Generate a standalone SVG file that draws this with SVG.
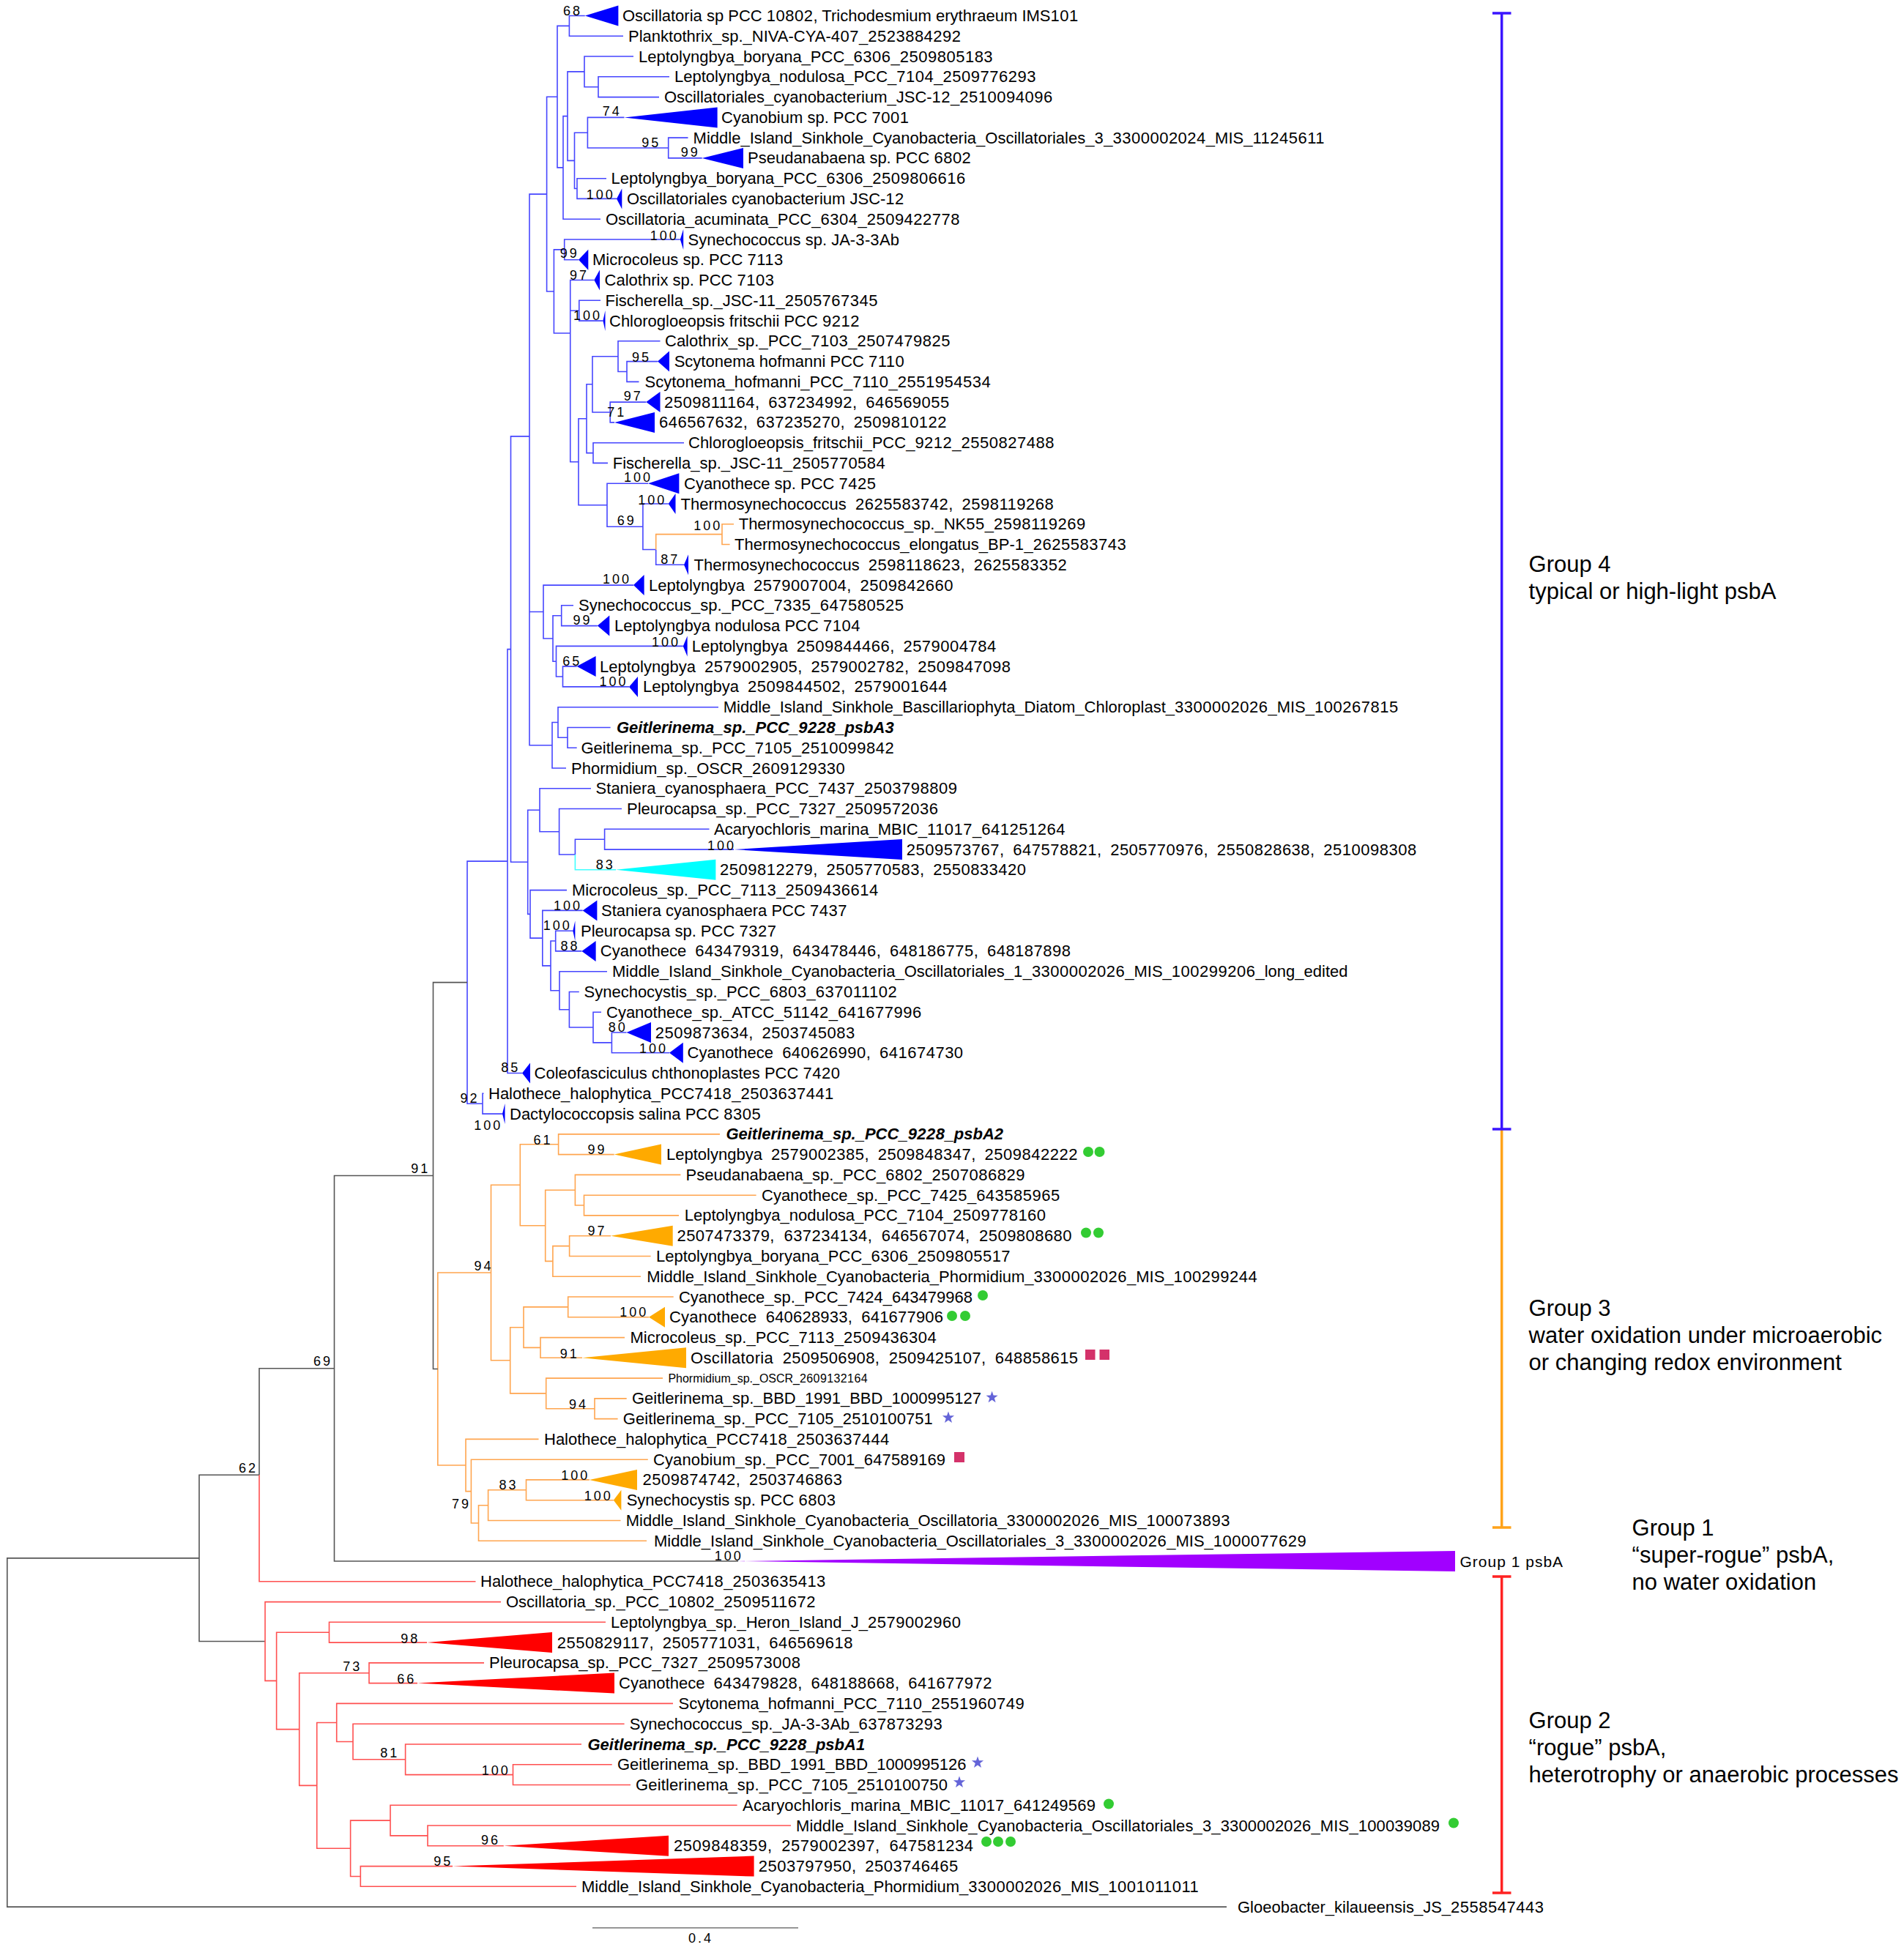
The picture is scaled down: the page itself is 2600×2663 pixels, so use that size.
<svg xmlns="http://www.w3.org/2000/svg" width="2600" height="2663" viewBox="0 0 2600 2663">
<style>
text{font-family:"Liberation Sans",Arial,Helvetica,sans-serif;fill:#000}
.t{font-size:22px}
.w{word-spacing:6px}
.bi{font-size:22px;font-weight:bold;font-style:italic}
.sm{font-size:16px}
.d{letter-spacing:0.5px}
.sm .d{letter-spacing:0.4px}
.s{font-size:18px;letter-spacing:3px;text-anchor:end}
.g{font-size:31px}
.g1{font-size:21px;letter-spacing:1px}
path{fill:none;stroke-width:1.6}
.b{stroke:#4646ff}.o{stroke:#ffa54f}.r{stroke:#ff5050}.k{stroke:#555}.c{stroke:#40ffff}
.tb{fill:#0000ff}.to{fill:#ffaa00}.tr{fill:#ff0000}.tc{fill:#00ffff}.tp{fill:#a100ff}
.dot{fill:#33cc33}.sq{fill:#d4326a}.st{fill:#6464d8}
.bar{stroke-width:3.5}
</style>
<defs>
<polygon id="star" points="0,-8.5 2,-2.75 8.08,-2.63 3.23,1.05 5,6.88 0,3.4 -5,6.88 -3.23,1.05 -8.08,-2.63 -2,-2.75"/>
</defs>
<rect width="2600" height="2663" fill="#fff"/>
<g id="connectors">
<path class="b" d="M777.4,35.4V21.5H798.8M777.4,35.4V49.3H851M817,118.7V104.8H914M817,118.7V132.6H900M798,97.9V77H865M798,97.9V118.7H817M912.7,202V188.1H939.5M912.7,202V215.9H958.7M802.4,181.2V160.4H852.4M802.4,181.2V202H912.7M788,257.5V243.7H828M788,257.5V271.4H842M784.5,219.4V181.2H802.4M784.5,219.4V257.5H788M775,158.6V97.9H798M775,158.6V219.4H784.5M769,228.9V158.6H775M769,228.9V299.2H820M761,132.2V35.4H777.4M761,132.2V228.9H769"/>
<path class="b" d="M770.7,340.9V327H928.8M770.7,340.9V354.7H790M790.8,424.2V410.3H820M790.8,424.2V438.1H823.4M856,507.5V493.6H898M856,507.5V521.4H872.5M844,486.7V465.8H901.5M844,486.7V507.5H856M833.2,563V549.1H882.3M833.2,563V576.9H839M809,524.8V486.7H844M809,524.8V563H833.2M810,618.6V604.7H934M810,618.6V632.4H830M801,571.7V524.8H809M801,571.7V618.6H810M895.7,750.5V771.3H934M877.9,719.2V688H912.7M877.9,719.2V750.5H895.7M829,689.7V660.2H885M829,689.7V719.2H877.9M790,630.7V571.7H801M790,630.7V689.7H829M778.75,527.5V424.2H790.8M778.75,527.5V630.7H790M778.75,455V382.5H811.3M778.75,455V527.5M756.4,398V340.9H770.7M756.4,398V455H778.75M746.6,265.1V132.2H761M746.6,265.1V398H756.4"/>
<path class="b" d="M766.7,840.7V826.8H783M766.7,840.7V854.6H815.8M768.5,924V910.1H787.7M768.5,924V937.9H859M759.5,903.2V882.4H932.8M759.5,903.2V924H768.5M755,872V840.7H766.7M755,872V903.2H759.5M742,835.5V799.1H865M742,835.5V872H755M775,1007.3V993.5H833.6M775,1007.3V1021.2H787.7M762,986.5V965.7H981M762,986.5V1007.3H775M754,1017.8V986.5H762M754,1017.8V1049H773M723,926.6V835.5H742M723,926.6V1017.8H754M723,595.9V265.1H746.6M723,595.9V926.6"/>
<path class="b" d="M825.6,1146.2V1132.3H968.5M825.6,1146.2V1160.1H1002M785.4,1167V1146.2H825.6M763.6,1135.8V1104.5H849M763.6,1135.8V1167H785.4M737,1106.3V1076.8H807M737,1106.3V1135.8H763.6M758.7,1285V1271.2H782.3M758.7,1285V1298.9H794.4M835.4,1423.9V1410H855.5M835.4,1423.9V1437.8H914M810,1403V1382.2H821M810,1403V1423.9H835.4M777.4,1378.8V1354.5H790.8M777.4,1378.8V1403H810M764,1352.7V1326.7H829M764,1352.7V1378.8H777.4M752,1318.9V1285H758.7M752,1318.9V1352.7H764M740.8,1281.1V1243.4H795.7M740.8,1281.1V1318.9H752M724,1248.4V1215.6H774M724,1248.4V1281.1H740.8M720.7,1177.3V1106.3H737M720.7,1177.3V1248.4H724M697.5,886.6V595.9H723M697.5,886.6V1177.3H720.7M693,1176.1V886.6H697.5M693,1176.1V1465.5H713M659,1507.2V1493.3H660.5M659,1507.2V1521.1H686M638,1341.6V1176.1H693M638,1341.6V1507.2H659"/>
<path class="c" d="M785.4,1167V1187.8H841"/>
<path class="o" d="M986,729.6V715.8H1002M986,729.6V743.5H996.6M895.7,750.5V729.6H986"/>
<path class="o" d="M762.6,1562.7V1548.9H983M762.6,1562.7V1576.6H838.7M797.5,1646V1632.2H1032.6M797.5,1646V1659.9H927M785.4,1625.2V1604.4H929.4M785.4,1625.2V1646H797.5M777.6,1701.6V1687.7H834M777.6,1701.6V1715.5H888.6M754.9,1722.4V1701.6H777.6M754.9,1722.4V1743.2H875M744.7,1673.8V1625.2H785.4M744.7,1673.8V1722.4H754.9M710.3,1618.3V1562.7H762.6M710.3,1618.3V1673.8H744.7M775.7,1784.9V1771H919.7M775.7,1784.9V1798.8H886M738,1840.4V1826.6H853M738,1840.4V1854.3H795M715,1812.7V1784.9H775.7M715,1812.7V1840.4H738M812,1923.7V1909.9H855.7M812,1923.7V1937.6H843.6M745.7,1902.9V1882.1H905M745.7,1902.9V1923.7H812M696.7,1857.8V1812.7H715M696.7,1857.8V1902.9H745.7M670.5,1738V1618.3H710.3M670.5,1738V1857.8H696.7M718.5,2034.8V2020.9H804.8M718.5,2034.8V2048.7H837.8M666.6,2055.7V2034.8H718.5M666.6,2055.7V2076.5H847.5M653.5,2080V2055.7H666.6M653.5,2080V2104.3H883M643.4,2036.6V1993.2H884.8M643.4,2036.6V2080H653.5M636,2001V1965.4H735.5M636,2001V2036.6H643.4M597.8,1869.5V1738H670.5M597.8,1869.5V2001H636"/>
<path class="k" d="M591.5,1605.5V1341.6H638M591.5,1605.5V1869.5H597.8M456.5,1868.8V1605.5H591.5M456.5,1868.8V2132H1008M354,2014.3V1868.8H456.5M272,2127.9V2014.3H354M272,2127.9V2241.5H362M9.8,2366V2127.9H272M9.8,2366V2604.1H1675"/>
<path class="r" d="M354,2014.3V2159.8H649.5M449.5,2229.2V2215.3H827M449.5,2229.2V2243.1H583M504,2284.8V2270.9H661M504,2284.8V2298.6H570M700.5,2423.6V2409.7H835.7M700.5,2423.6V2437.5H861M553.6,2402.8V2382H794M553.6,2402.8V2423.6H700.5M482,2378.5V2354.2H852.6M482,2378.5V2402.8H553.6M459.7,2352.5V2326.4H919M459.7,2352.5V2378.5H482M584,2506.9V2493H1080M584,2506.9V2520.8H687.8M533,2486.1V2465.3H1006.6M533,2486.1V2506.9H584M492.3,2562.5V2548.6H618M492.3,2562.5V2576.3H787M478.6,2524.3V2486.1H533M478.6,2524.3V2562.5H492.3M432.7,2438.4V2352.5H459.7M432.7,2438.4V2524.3H478.6M408.7,2361.6V2284.8H504M408.7,2361.6V2438.4H432.7M377.6,2295.4V2229.2H449.5M377.6,2295.4V2361.6H408.7M362,2241.5V2187.6H684M362,2241.5V2295.4H377.6"/>
</g>
<g id="leaves">
<g id="leaf-1"><polygon class="tb" points="798.8,21.5 844.4,7.5 844.4,35.5"/><text class="t" x="850" y="29">Oscillatoria sp PCC <tspan class="d">10802</tspan>, Trichodesmium erythraeum IMS<tspan class="d">101</tspan></text></g>
<g id="leaf-2"><text class="t" x="858" y="56.8">Planktothrix_sp._NIVA-CYA-<tspan class="d">407</tspan>_<tspan class="d">2523884292</tspan></text></g>
<g id="leaf-3"><text class="t" x="872" y="84.5">Leptolyngbya_boryana_PCC_<tspan class="d">6306</tspan>_<tspan class="d">2509805183</tspan></text></g>
<g id="leaf-4"><text class="t" x="921" y="112.3">Leptolyngbya_nodulosa_PCC_<tspan class="d">7104</tspan>_<tspan class="d">2509776293</tspan></text></g>
<g id="leaf-5"><text class="t" x="907" y="140.1">Oscillatoriales_cyanobacterium_JSC-<tspan class="d">12</tspan>_<tspan class="d">2510094096</tspan></text></g>
<g id="leaf-6"><polygon class="tb" points="852.4,160.4 979.6,146.4 979.6,174.4"/><text class="t" x="985" y="167.9">Cyanobium sp. PCC <tspan class="d">7001</tspan></text></g>
<g id="leaf-7"><text class="t" x="946.6" y="195.6">Middle_Island_Sinkhole_Cyanobacteria_Oscillatoriales_<tspan class="d">3</tspan>_<tspan class="d">3300002024</tspan>_MIS_<tspan class="d">11245611</tspan></text></g>
<g id="leaf-8"><polygon class="tb" points="958.7,215.9 1015,201.9 1015,229.9"/><text class="t" x="1021" y="223.4">Pseudanabaena sp. PCC <tspan class="d">6802</tspan></text></g>
<g id="leaf-9"><text class="t" x="834.6" y="251.2">Leptolyngbya_boryana_PCC_<tspan class="d">6306</tspan>_<tspan class="d">2509806616</tspan></text></g>
<g id="leaf-10"><polygon class="tb" points="842,271.4 849.3,257.4 849.3,285.4"/><text class="t" x="856" y="278.9">Oscillatoriales cyanobacterium JSC-<tspan class="d">12</tspan></text></g>
<g id="leaf-11"><text class="t" x="827" y="306.7">Oscillatoria_acuminata_PCC_<tspan class="d">6304</tspan>_<tspan class="d">2509422778</tspan></text></g>
<g id="leaf-12"><polygon class="tb" points="928.8,327 933.2,313 933.2,341"/><text class="t" x="939.5" y="334.5">Synechococcus sp. JA-<tspan class="d">3</tspan>-<tspan class="d">3</tspan>Ab</text></g>
<g id="leaf-13"><polygon class="tb" points="790,354.7 803.3,340.7 803.3,368.7"/><text class="t" x="809" y="362.2">Microcoleus sp. PCC <tspan class="d">7113</tspan></text></g>
<g id="leaf-14"><polygon class="tb" points="811.3,382.5 819,368.5 819,396.5"/><text class="t" x="825.6" y="390">Calothrix sp. PCC <tspan class="d">7103</tspan></text></g>
<g id="leaf-15"><text class="t" x="826.5" y="417.8">Fischerella_sp._JSC-<tspan class="d">11</tspan>_<tspan class="d">2505767345</tspan></text></g>
<g id="leaf-16"><polygon class="tb" points="823.4,438.1 826.5,424.1 826.5,452.1"/><text class="t" x="832" y="445.6">Chlorogloeopsis fritschii PCC <tspan class="d">9212</tspan></text></g>
<g id="leaf-17"><text class="t" x="908" y="473.3">Calothrix_sp._PCC_<tspan class="d">7103</tspan>_<tspan class="d">2507479825</tspan></text></g>
<g id="leaf-18"><polygon class="tb" points="898,493.6 914,479.6 914,507.6"/><text class="t" x="920.7" y="501.1">Scytonema hofmanni PCC <tspan class="d">7110</tspan></text></g>
<g id="leaf-19"><text class="t" x="880.5" y="528.9">Scytonema_hofmanni_PCC_<tspan class="d">7110</tspan>_<tspan class="d">2551954534</tspan></text></g>
<g id="leaf-20"><polygon class="tb" points="882.3,549.1 901.5,535.1 901.5,563.1"/><text class="t w" x="907" y="556.6"><tspan class="d">2509811164</tspan>, <tspan class="d">637234992</tspan>, <tspan class="d">646569055</tspan></text></g>
<g id="leaf-21"><polygon class="tb" points="839,576.9 894,562.9 894,590.9"/><text class="t w" x="900" y="584.4"><tspan class="d">646567632</tspan>, <tspan class="d">637235270</tspan>, <tspan class="d">2509810122</tspan></text></g>
<g id="leaf-22"><text class="t" x="940" y="612.2">Chlorogloeopsis_fritschii_PCC_<tspan class="d">9212</tspan>_<tspan class="d">2550827488</tspan></text></g>
<g id="leaf-23"><text class="t" x="836.8" y="639.9">Fischerella_sp._JSC-<tspan class="d">11</tspan>_<tspan class="d">2505770584</tspan></text></g>
<g id="leaf-24"><polygon class="tb" points="885,660.2 927.4,646.2 927.4,674.2"/><text class="t" x="934" y="667.7">Cyanothece sp. PCC <tspan class="d">7425</tspan></text></g>
<g id="leaf-25"><polygon class="tb" points="912.7,688 922.5,674 922.5,702"/><text class="t w" x="929.6" y="695.5">Thermosynechococcus <tspan class="d">2625583742</tspan>, <tspan class="d">2598119268</tspan></text></g>
<g id="leaf-26"><text class="t" x="1008.7" y="723.3">Thermosynechococcus_sp._NK<tspan class="d">55</tspan>_<tspan class="d">2598119269</tspan></text></g>
<g id="leaf-27"><text class="t" x="1003" y="751">Thermosynechococcus_elongatus_BP-<tspan class="d">1</tspan>_<tspan class="d">2625583743</tspan></text></g>
<g id="leaf-28"><polygon class="tb" points="934,771.3 940,757.3 940,785.3"/><text class="t w" x="947.5" y="778.8">Thermosynechococcus <tspan class="d">2598118623</tspan>, <tspan class="d">2625583352</tspan></text></g>
<g id="leaf-29"><polygon class="tb" points="865,799.1 879.6,785.1 879.6,813.1"/><text class="t w" x="886" y="806.6">Leptolyngbya <tspan class="d">2579007004</tspan>, <tspan class="d">2509842660</tspan></text></g>
<g id="leaf-30"><text class="t" x="790" y="834.3">Synechococcus_sp._PCC_<tspan class="d">7335</tspan>_<tspan class="d">647580525</tspan></text></g>
<g id="leaf-31"><polygon class="tb" points="815.8,854.6 832.3,840.6 832.3,868.6"/><text class="t" x="839" y="862.1">Leptolyngbya nodulosa PCC <tspan class="d">7104</tspan></text></g>
<g id="leaf-32"><polygon class="tb" points="932.8,882.4 938.6,868.4 938.6,896.4"/><text class="t w" x="944.8" y="889.9">Leptolyngbya <tspan class="d">2509844466</tspan>, <tspan class="d">2579004784</tspan></text></g>
<g id="leaf-33"><polygon class="tb" points="787.7,910.1 813.6,896.1 813.6,924.1"/><text class="t w" x="819" y="917.6">Leptolyngbya <tspan class="d">2579002905</tspan>, <tspan class="d">2579002782</tspan>, <tspan class="d">2509847098</tspan></text></g>
<g id="leaf-34"><polygon class="tb" points="859,937.9 871,923.9 871,951.9"/><text class="t w" x="878" y="945.4">Leptolyngbya <tspan class="d">2509844502</tspan>, <tspan class="d">2579001644</tspan></text></g>
<g id="leaf-35"><text class="t" x="987.7" y="973.2">Middle_Island_Sinkhole_Bascillariophyta_Diatom_Chloroplast_<tspan class="d">3300002026</tspan>_MIS_<tspan class="d">100267815</tspan></text></g>
<g id="leaf-36"><text class="bi" x="842" y="1001">Geitlerinema_sp._PCC_<tspan class="d">9228</tspan>_psbA<tspan class="d">3</tspan></text></g>
<g id="leaf-37"><text class="t" x="793.5" y="1028.7">Geitlerinema_sp._PCC_<tspan class="d">7105</tspan>_<tspan class="d">2510099842</tspan></text></g>
<g id="leaf-38"><text class="t" x="780" y="1056.5">Phormidium_sp._OSCR_<tspan class="d">2609129330</tspan></text></g>
<g id="leaf-39"><text class="t" x="813.6" y="1084.3">Staniera_cyanosphaera_PCC_<tspan class="d">7437</tspan>_<tspan class="d">2503798809</tspan></text></g>
<g id="leaf-40"><text class="t" x="856" y="1112">Pleurocapsa_sp._PCC_<tspan class="d">7327</tspan>_<tspan class="d">2509572036</tspan></text></g>
<g id="leaf-41"><text class="t" x="975" y="1139.8">Acaryochloris_marina_MBIC_<tspan class="d">11017</tspan>_<tspan class="d">641251264</tspan></text></g>
<g id="leaf-42"><polygon class="tb" points="1002,1160.1 1232,1146.1 1232,1174.1"/><text class="t w" x="1237.7" y="1167.6"><tspan class="d">2509573767</tspan>, <tspan class="d">647578821</tspan>, <tspan class="d">2505770976</tspan>, <tspan class="d">2550828638</tspan>, <tspan class="d">2510098308</tspan></text></g>
<g id="leaf-43"><polygon class="tc" points="841,1187.8 977.4,1173.8 977.4,1201.8"/><text class="t w" x="983" y="1195.3"><tspan class="d">2509812279</tspan>, <tspan class="d">2505770583</tspan>, <tspan class="d">2550833420</tspan></text></g>
<g id="leaf-44"><text class="t" x="781" y="1223.1">Microcoleus_sp._PCC_<tspan class="d">7113</tspan>_<tspan class="d">2509436614</tspan></text></g>
<g id="leaf-45"><polygon class="tb" points="795.7,1243.4 815.4,1229.4 815.4,1257.4"/><text class="t" x="821" y="1250.9">Staniera cyanosphaera PCC <tspan class="d">7437</tspan></text></g>
<g id="leaf-46"><polygon class="tb" points="782.3,1271.2 785.4,1257.2 785.4,1285.2"/><text class="t" x="793" y="1278.7">Pleurocapsa sp. PCC <tspan class="d">7327</tspan></text></g>
<g id="leaf-47"><polygon class="tb" points="794.4,1298.9 813.6,1284.9 813.6,1312.9"/><text class="t w" x="819.8" y="1306.4">Cyanothece <tspan class="d">643479319</tspan>, <tspan class="d">643478446</tspan>, <tspan class="d">648186775</tspan>, <tspan class="d">648187898</tspan></text></g>
<g id="leaf-48"><text class="t" x="836" y="1334.2">Middle_Island_Sinkhole_Cyanobacteria_Oscillatoriales_<tspan class="d">1</tspan>_<tspan class="d">3300002026</tspan>_MIS_<tspan class="d">100299206</tspan>_long_edited</text></g>
<g id="leaf-49"><text class="t" x="797.5" y="1362">Synechocystis_sp._PCC_<tspan class="d">6803</tspan>_<tspan class="d">637011102</tspan></text></g>
<g id="leaf-50"><text class="t" x="828" y="1389.7">Cyanothece_sp._ATCC_<tspan class="d">51142</tspan>_<tspan class="d">641677996</tspan></text></g>
<g id="leaf-51"><polygon class="tb" points="855.5,1410 889,1396 889,1424"/><text class="t w" x="894.8" y="1417.5"><tspan class="d">2509873634</tspan>, <tspan class="d">2503745083</tspan></text></g>
<g id="leaf-52"><polygon class="tb" points="914,1437.8 932.8,1423.8 932.8,1451.8"/><text class="t w" x="938.6" y="1445.3">Cyanothece <tspan class="d">640626990</tspan>, <tspan class="d">641674730</tspan></text></g>
<g id="leaf-53"><polygon class="tb" points="713,1465.5 724,1451.5 724,1479.5"/><text class="t" x="729.6" y="1473">Coleofasciculus chthonoplastes PCC <tspan class="d">7420</tspan></text></g>
<g id="leaf-54"><text class="t" x="667" y="1500.8">Halothece_halophytica_PCC<tspan class="d">7418</tspan>_<tspan class="d">2503637441</tspan></text></g>
<g id="leaf-55"><polygon class="tb" points="686,1521.1 689.5,1507.1 689.5,1535.1"/><text class="t" x="696" y="1528.6">Dactylococcopsis salina PCC <tspan class="d">8305</tspan></text></g>
<g id="leaf-56"><text class="bi" x="991.4" y="1556.4">Geitlerinema_sp._PCC_<tspan class="d">9228</tspan>_psbA<tspan class="d">2</tspan></text></g>
<g id="leaf-57"><polygon class="to" points="838.7,1576.6 903,1562.6 903,1590.6"/><text class="t w" x="910" y="1584.1" textLength="562">Leptolyngbya <tspan class="d">2579002385</tspan>, <tspan class="d">2509848347</tspan>, <tspan class="d">2509842222</tspan></text><circle class="dot" cx="1486" cy="1573" r="7"/><circle class="dot" cx="1501.5" cy="1573" r="7"/></g>
<g id="leaf-58"><text class="t" x="936.6" y="1611.9">Pseudanabaena_sp._PCC_<tspan class="d">6802</tspan>_<tspan class="d">2507086829</tspan></text></g>
<g id="leaf-59"><text class="t" x="1040" y="1639.7">Cyanothece_sp._PCC_<tspan class="d">7425</tspan>_<tspan class="d">643585965</tspan></text></g>
<g id="leaf-60"><text class="t" x="934.7" y="1667.4">Leptolyngbya_nodulosa_PCC_<tspan class="d">7104</tspan>_<tspan class="d">2509778160</tspan></text></g>
<g id="leaf-61"><polygon class="to" points="834,1687.7 918.7,1673.7 918.7,1701.7"/><text class="t w" x="924.5" y="1695.2" textLength="539">2507473379, 637234134, 646567074, 2509808680</text><circle class="dot" cx="1483" cy="1683.5" r="7"/><circle class="dot" cx="1500" cy="1683.5" r="7"/></g>
<g id="leaf-62"><text class="t" x="896" y="1723">Leptolyngbya_boryana_PCC_<tspan class="d">6306</tspan>_<tspan class="d">2509805517</tspan></text></g>
<g id="leaf-63"><text class="t" x="883.3" y="1750.7">Middle_Island_Sinkhole_Cyanobacteria_Phormidium_<tspan class="d">3300002026</tspan>_MIS_<tspan class="d">100299244</tspan></text></g>
<g id="leaf-64"><text class="t" x="927" y="1778.5" textLength="401">Cyanothece_sp._PCC_7424_643479968</text><circle class="dot" cx="1342" cy="1769" r="7"/></g>
<g id="leaf-65"><polygon class="to" points="886,1798.8 908,1784.8 908,1812.8"/><text class="t w" x="914" y="1806.3" textLength="374">Cyanothece 640628933, 641677906</text><circle class="dot" cx="1300" cy="1797" r="7"/><circle class="dot" cx="1318" cy="1797" r="7"/></g>
<g id="leaf-66"><text class="t" x="860.5" y="1834.1">Microcoleus_sp._PCC_<tspan class="d">7113</tspan>_<tspan class="d">2509436304</tspan></text></g>
<g id="leaf-67"><polygon class="to" points="795,1854.3 937,1840.3 937,1868.3"/><text class="t w" x="943" y="1861.8" textLength="529">Oscillatoria 2509506908, 2509425107, 648858615</text><rect class="sq" x="1482" y="1843" width="13.5" height="14"/><rect class="sq" x="1501.5" y="1843" width="13.5" height="14"/></g>
<g id="leaf-68"><text class="sm" x="912.4" y="1887.8">Phormidium_sp._OSCR_<tspan class="d">2609132164</tspan></text></g>
<g id="leaf-69"><text class="t" x="863" y="1917.4" textLength="477">Geitlerinema_sp._BBD_1991_BBD_1000995127</text><use href="#star" class="st" x="1354.6" y="1908.3"/></g>
<g id="leaf-70"><text class="t" x="850.8" y="1945.1" textLength="423">Geitlerinema_sp._PCC_7105_2510100751</text><use href="#star" class="st" x="1295" y="1936"/></g>
<g id="leaf-71"><text class="t" x="743" y="1972.9">Halothece_halophytica_PCC<tspan class="d">7418</tspan>_<tspan class="d">2503637444</tspan></text></g>
<g id="leaf-72"><text class="t" x="892" y="2000.7" textLength="399">Cyanobium_sp._PCC_7001_647589169</text><rect class="sq" x="1303" y="1983" width="14" height="14"/></g>
<g id="leaf-73"><polygon class="to" points="804.8,2020.9 870,2006.9 870,2034.9"/><text class="t w" x="877.5" y="2028.4"><tspan class="d">2509874742</tspan>, <tspan class="d">2503746863</tspan></text></g>
<g id="leaf-74"><polygon class="to" points="837.8,2048.7 848.4,2034.7 848.4,2062.7"/><text class="t" x="855.7" y="2056.2">Synechocystis sp. PCC <tspan class="d">6803</tspan></text></g>
<g id="leaf-75"><text class="t" x="854.7" y="2084">Middle_Island_Sinkhole_Cyanobacteria_Oscillatoria_<tspan class="d">3300002026</tspan>_MIS_<tspan class="d">100073893</tspan></text></g>
<g id="leaf-76"><text class="t" x="893" y="2111.8">Middle_Island_Sinkhole_Cyanobacteria_Oscillatoriales_<tspan class="d">3</tspan>_<tspan class="d">3300002026</tspan>_MIS_<tspan class="d">1000077629</tspan></text></g>
<g id="leaf-77"><polygon class="tp" points="1008,2132 1987,2118 1987,2146"/><text class="g1" x="1993.5" y="2139.5">Group 1 psbA</text></g>
<g id="leaf-78"><text class="t" x="656" y="2167.3">Halothece_halophytica_PCC<tspan class="d">7418</tspan>_<tspan class="d">2503635413</tspan></text></g>
<g id="leaf-79"><text class="t" x="691" y="2195.1">Oscillatoria_sp._PCC_<tspan class="d">10802</tspan>_<tspan class="d">2509511672</tspan></text></g>
<g id="leaf-80"><text class="t" x="834" y="2222.8">Leptolyngbya_sp._Heron_Island_J_<tspan class="d">2579002960</tspan></text></g>
<g id="leaf-81"><polygon class="tr" points="583,2243.1 754,2229.1 754,2257.1"/><text class="t w" x="760.7" y="2250.6"><tspan class="d">2550829117</tspan>, <tspan class="d">2505771031</tspan>, <tspan class="d">646569618</tspan></text></g>
<g id="leaf-82"><text class="t" x="668" y="2278.4">Pleurocapsa_sp._PCC_<tspan class="d">7327</tspan>_<tspan class="d">2509573008</tspan></text></g>
<g id="leaf-83"><polygon class="tr" points="570,2298.6 839,2284.6 839,2312.6"/><text class="t w" x="845" y="2306.1">Cyanothece <tspan class="d">643479828</tspan>, <tspan class="d">648188668</tspan>, <tspan class="d">641677972</tspan></text></g>
<g id="leaf-84"><text class="t" x="926.5" y="2333.9">Scytonema_hofmanni_PCC_<tspan class="d">7110</tspan>_<tspan class="d">2551960749</tspan></text></g>
<g id="leaf-85"><text class="t" x="859.7" y="2361.7">Synechococcus_sp._JA-<tspan class="d">3</tspan>-<tspan class="d">3</tspan>Ab_<tspan class="d">637873293</tspan></text></g>
<g id="leaf-86"><text class="bi" x="802.5" y="2389.5">Geitlerinema_sp._PCC_<tspan class="d">9228</tspan>_psbA<tspan class="d">1</tspan></text></g>
<g id="leaf-87"><text class="t" x="843" y="2417.2" textLength="476.5">Geitlerinema_sp._BBD_1991_BBD_1000995126</text><use href="#star" class="st" x="1335" y="2407"/></g>
<g id="leaf-88"><text class="t" x="868" y="2445" textLength="426">Geitlerinema_sp._PCC_7105_2510100750</text><use href="#star" class="st" x="1310" y="2434"/></g>
<g id="leaf-89"><text class="t" x="1014" y="2472.8" textLength="482">Acaryochloris_marina_MBIC_11017_641249569</text><circle class="dot" cx="1514" cy="2463.5" r="7"/></g>
<g id="leaf-90"><text class="t" x="1087" y="2500.5" textLength="879">Middle_Island_Sinkhole_Cyanobacteria_Oscillatoriales_3_3300002026_MIS_100039089</text><circle class="dot" cx="1985" cy="2489.5" r="7"/></g>
<g id="leaf-91"><polygon class="tr" points="687.8,2520.8 913,2506.8 913,2534.8"/><text class="t w" x="920" y="2528.3" textLength="409">2509848359, 2579002397, 647581234</text><circle class="dot" cx="1347" cy="2515" r="7"/><circle class="dot" cx="1363" cy="2515" r="7"/><circle class="dot" cx="1380" cy="2515" r="7"/></g>
<g id="leaf-92"><polygon class="tr" points="618,2548.6 1029.6,2534.6 1029.6,2562.6"/><text class="t w" x="1035.7" y="2556.1"><tspan class="d">2503797950</tspan>, <tspan class="d">2503746465</tspan></text></g>
<g id="leaf-93"><text class="t" x="794" y="2583.8">Middle_Island_Sinkhole_Cyanobacteria_Phormidium_<tspan class="d">3300002026</tspan>_MIS_<tspan class="d">1001011011</tspan></text></g>
<g id="leaf-94"><text class="t" x="1690" y="2611.6">Gloeobacter_kilaueensis_JS_<tspan class="d">2558547443</tspan></text></g>
</g>
<g id="supports">
<text class="s" x="795" y="20.7">68</text>
<text class="s" x="848.7" y="158.4">74</text>
<text class="s" x="902.3" y="201.4">95</text>
<text class="s" x="955.9" y="214.2">99</text>
<text class="s" x="839.8" y="272">100</text>
<text class="s" x="926.8" y="327.8">100</text>
<text class="s" x="790.7" y="352">99</text>
<text class="s" x="804" y="382.2">97</text>
<text class="s" x="822" y="437.3">100</text>
<text class="s" x="889" y="494">95</text>
<text class="s" x="877.7" y="546.9">97</text>
<text class="s" x="855.4" y="569.2">71</text>
<text class="s" x="891" y="657.7">100</text>
<text class="s" x="910.3" y="688.7">100</text>
<text class="s" x="868.8" y="717.3">69</text>
<text class="s" x="986.2" y="724.2">100</text>
<text class="s" x="928.2" y="769.7">87</text>
<text class="s" x="862.1" y="796.5">100</text>
<text class="s" x="808.5" y="853.3">99</text>
<text class="s" x="929" y="882.6">100</text>
<text class="s" x="794.2" y="909">65</text>
<text class="s" x="857.6" y="936.7">100</text>
<text class="s" x="1005" y="1160.5">100</text>
<text class="s" x="839.8" y="1187.4">83</text>
<text class="s" x="795" y="1243.2">100</text>
<text class="s" x="780.9" y="1270">100</text>
<text class="s" x="791.6" y="1297.6">88</text>
<text class="s" x="856.8" y="1409">80</text>
<text class="s" x="912" y="1437.7">100</text>
<text class="s" x="710.3" y="1463.6">85</text>
<text class="s" x="654.5" y="1506">92</text>
<text class="s" x="686.3" y="1542.5">100</text>
<text class="s" x="754.5" y="1562.5">61</text>
<text class="s" x="828.6" y="1575.5">99</text>
<text class="s" x="828.6" y="1687.2">97</text>
<text class="s" x="673.5" y="1734.6">94</text>
<text class="s" x="885.3" y="1797.5">100</text>
<text class="s" x="790.8" y="1854.8">91</text>
<text class="s" x="803" y="1924">94</text>
<text class="s" x="805.4" y="2021.3">100</text>
<text class="s" x="707.5" y="2034">83</text>
<text class="s" x="836.9" y="2049">100</text>
<text class="s" x="643" y="2060">79</text>
<text class="s" x="587.2" y="1602.3">91</text>
<text class="s" x="454" y="1865">69</text>
<text class="s" x="352" y="2011">62</text>
<text class="s" x="1014.7" y="2131">100</text>
<text class="s" x="573.4" y="2244.3">98</text>
<text class="s" x="494.3" y="2281.9">73</text>
<text class="s" x="568.3" y="2298.6">66</text>
<text class="s" x="545.3" y="2399.7">81</text>
<text class="s" x="696.9" y="2423.9">100</text>
<text class="s" x="683" y="2519.4">96</text>
<text class="s" x="618.3" y="2548.4">95</text>
</g>
<g id="group-bars">
<path class="bar" stroke="#ffa31a" d="M2050.7,1542V2086M2038,2086H2063.5"/>
<path class="bar" stroke="#3a14ff" d="M2050.7,18V1542M2038,18H2063.5M2038,1542H2063.5"/>
<path class="bar" stroke="#ff2222" d="M2050.7,2153V2585M2038,2153H2063.5M2038,2585H2063.5"/>
</g>
<g id="group-4-label"><text class="g" x="2087.6" y="781">Group 4</text><text class="g" x="2087.6" y="818">typical or high-light psbA</text></g>
<g id="group-3-label"><text class="g" x="2087.6" y="1797">Group 3</text><text class="g" x="2087.6" y="1834">water oxidation under microaerobic</text><text class="g" x="2087.6" y="1871">or changing redox environment</text></g>
<g id="group-1-label"><text class="g" x="2228.6" y="2097">Group 1</text><text class="g" x="2228.6" y="2134">“super-rogue” psbA,</text><text class="g" x="2228.6" y="2171">no water oxidation</text></g>
<g id="group-2-label"><text class="g" x="2087.6" y="2360">Group 2</text><text class="g" x="2087.6" y="2397">“rogue” psbA,</text><text class="g" x="2087.6" y="2434">heterotrophy or anaerobic processes</text></g>
<g id="scale-bar"><path stroke="#777" stroke-width="2.2" d="M809,2632.8H1090"/><text style="font-size:18px;letter-spacing:3px;text-anchor:middle" x="957" y="2652.5">0.4</text></g>
</svg>
